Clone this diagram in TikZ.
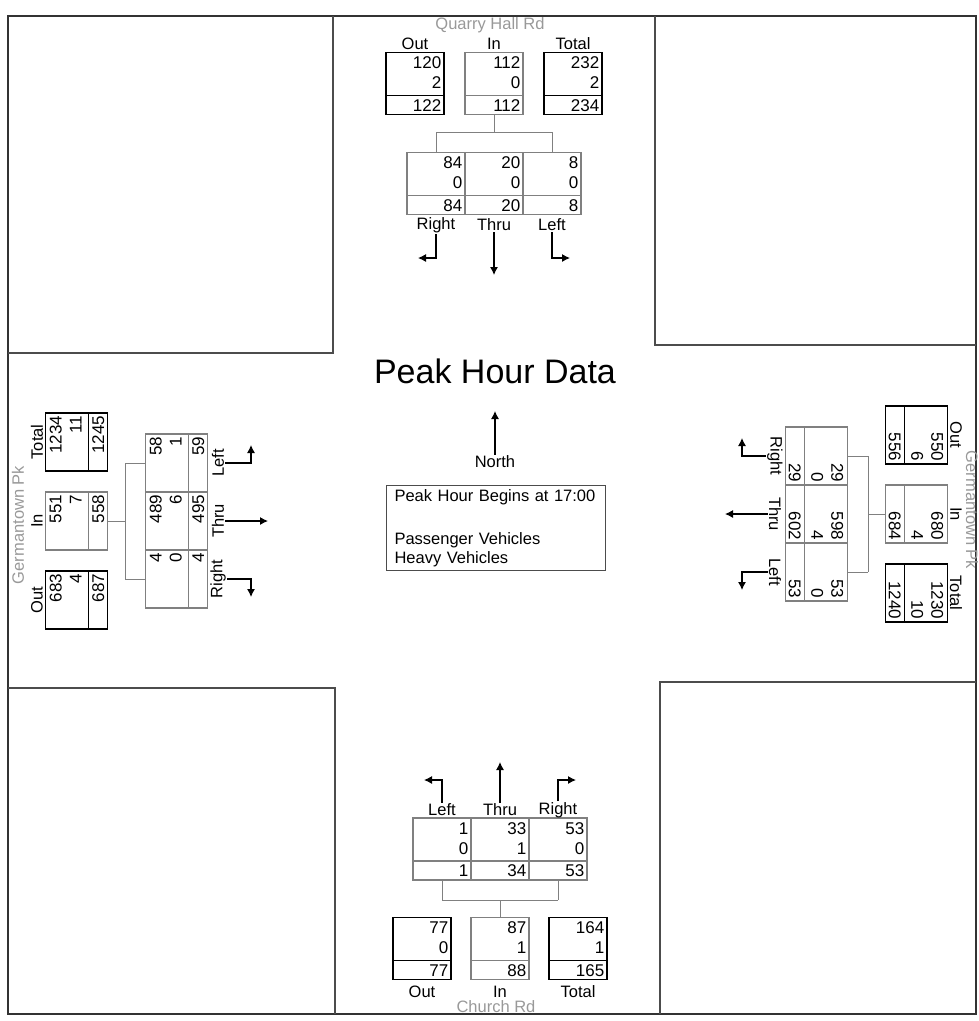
\documentclass[tikz,border=0pt]{standalone}
\usepackage{fontspec}
\setmainfont{Liberation Sans}
\usetikzlibrary{calc,positioning,arrows.meta}

\definecolor{boxgray}{gray}{0.5}
\definecolor{roadgray}{gray}{0.6}

\tikzset{
  vbox/.style={draw, line width=1.1pt, minimum width=58pt, minimum height=62pt, inner sep=0pt},
  num/.style={anchor=east, inner sep=3pt, font=\fontsize{17}{18}\selectfont},
  lbl/.style={inner sep=1pt, font=\fontsize{16.5}{18}\selectfont},
  road/.style={text=roadgray, inner sep=1pt, font=\fontsize{16.5}{18}\selectfont},
  turn/.style={->, line width=1.1pt},
  link/.style={draw=boxgray, line width=1pt},
  corner/.style={draw=black!70, line width=1.1pt},
}

% volume box: name, position, colour, three numbers
\newcommand{\volbox}[6]{%
  \node[vbox, draw=#3] (#1) at (#2) {};
  \draw[#3, line width=1.1pt] ($(#1.north west)!0.69!(#1.south west)$) -- ($(#1.north east)!0.69!(#1.south east)$);
  \node[num] at ($(#1.north east)!0.17!(#1.south east)$) {#4};
  \node[num] at ($(#1.north east)!0.49!(#1.south east)$) {#5};
  \node[num] at ($(#1.north east)!0.845!(#1.south east)$) {#6};
}

\begin{document}
\begin{tikzpicture}[x=1pt, y=-1pt, >={Latex[length=8pt,width=8pt]}]
    \useasboundingbox (0,0) rectangle (979,1021);

    % 1. Frame and the four corner blocks
    \draw[black!80, line width=1.6pt] (8,16) rectangle (976,1014);
    \draw[corner] (8,353) -- (333,353) -- (333,16);
    \draw[corner] (655,16) -- (655,345) -- (976,345);
    \draw[corner] (8,688) -- (335,688) -- (335,1014);
    \draw[corner] (660,1014) -- (660,682) -- (976,682);

    % 2. North leg: Quarry Hall Rd
    \begin{scope}[shift={(494,152)}]
        \node[road] (nRoad) at (-4,-127) {Quarry Hall Rd};
        \volbox{nOut}{-79,-68.5}{black}{120}{2}{122}
        \volbox{nIn}{0,-68.5}{boxgray}{112}{0}{112}
        \volbox{nTot}{79,-68.5}{black}{232}{2}{234}
        \node[lbl] (nOutL) at (-79,-108) {Out};
        \node[lbl] (nInL) at (0,-108) {In};
        \node[lbl] (nTotL) at (79,-108) {Total};
        \volbox{nR}{-58,31.5}{boxgray}{84}{0}{84}
        \volbox{nT}{0,31.5}{boxgray}{20}{0}{20}
        \volbox{nL}{58,31.5}{boxgray}{8}{0}{8}
        \coordinate (nJ) at (0,-20);
        \coordinate (nJl) at (-58,-20);
        \coordinate (nJr) at (58,-20);
        \draw[link] (nIn) -- (nJ) (nJl) -- (nJr) (nJl) -- (nR) (nJr) -- (nL);
        \node[lbl] (nRl) at (-58,73) {Right};
        \node[lbl] (nTl) at (0,73) {Thru};
        \node[lbl] (nLl) at (58,73) {Left};
        \draw[turn] (nRl) -- (-58,106) -- ++(-18,0);
        \draw[turn] (nTl) -- (0,123);
        \draw[turn] (nLl) -- (58,106) -- ++(18,0);
    \end{scope}

    % 3. West leg: Germantown Pk
    \begin{scope}[shift={(145,521)}, rotate=90, transform shape]
        \node[road] (wRoad) at (-4,-127) {Germantown Pk};
        \volbox{wOut}{-79,-68.5}{black}{683}{4}{687}
        \volbox{wIn}{0,-68.5}{boxgray}{551}{7}{558}
        \volbox{wTot}{79,-68.5}{black}{1234}{11}{1245}
        \node[lbl] (wOutL) at (-79,-108) {Out};
        \node[lbl] (wInL) at (0,-108) {In};
        \node[lbl] (wTotL) at (79,-108) {Total};
        \volbox{wR}{-58,31.5}{boxgray}{4}{0}{4}
        \volbox{wT}{0,31.5}{boxgray}{489}{6}{495}
        \volbox{wL}{58,31.5}{boxgray}{58}{1}{59}
        \coordinate (wJ) at (0,-20);
        \coordinate (wJl) at (-58,-20);
        \coordinate (wJr) at (58,-20);
        \draw[link] (wIn) -- (wJ) (wJl) -- (wJr) (wJl) -- (wR) (wJr) -- (wL);
        \node[lbl] (wRl) at (-58,73) {Right};
        \node[lbl] (wTl) at (0,73) {Thru};
        \node[lbl] (wLl) at (58,73) {Left};
        \draw[turn] (wRl) -- (-58,106) -- ++(-18,0);
        \draw[turn] (wTl) -- (0,123);
        \draw[turn] (wLl) -- (58,106) -- ++(18,0);
    \end{scope}

    % 4. East leg: Germantown Pk
    \begin{scope}[shift={(848,514)}, rotate=-90, transform shape]
        \node[road] (eRoad) at (-4,-124) {Germantown Pk};
        \volbox{eOut}{-79,-68.5}{black}{550}{6}{556}
        \volbox{eIn}{0,-68.5}{boxgray}{680}{4}{684}
        \volbox{eTot}{79,-68.5}{black}{1230}{10}{1240}
        \node[lbl] (eOutL) at (-79,-108) {Out};
        \node[lbl] (eInL) at (0,-108) {In};
        \node[lbl] (eTotL) at (79,-108) {Total};
        \volbox{eR}{-58,31.5}{boxgray}{29}{0}{29}
        \volbox{eT}{0,31.5}{boxgray}{598}{4}{602}
        \volbox{eL}{58,31.5}{boxgray}{53}{0}{53}
        \coordinate (eJ) at (0,-20);
        \coordinate (eJl) at (-58,-20);
        \coordinate (eJr) at (58,-20);
        \draw[link] (eIn) -- (eJ) (eJl) -- (eJr) (eJl) -- (eR) (eJr) -- (eL);
        \node[lbl] (eRl) at (-58,73) {Right};
        \node[lbl] (eTl) at (0,73) {Thru};
        \node[lbl] (eLl) at (58,73) {Left};
        \draw[turn] (eRl) -- (-58,106) -- ++(-18,0);
        \draw[turn] (eTl) -- (0,123);
        \draw[turn] (eLl) -- (58,106) -- ++(18,0);
    \end{scope}

    % 5. South leg: Church Rd (mirrored, text upright)
    \begin{scope}[shift={(500,880)}, yscale=-1]
        \node[road] (sRoad) at (-4,-127) {Church Rd};
        \volbox{sOut}{-78,-68.5}{black}{77}{0}{77}
        \volbox{sIn}{0,-68.5}{boxgray}{87}{1}{88}
        \volbox{sTot}{78,-68.5}{black}{164}{1}{165}
        \node[lbl] (sOutL) at (-78,-112) {Out};
        \node[lbl] (sInL) at (0,-112) {In};
        \node[lbl] (sTotL) at (78,-112) {Total};
        \volbox{sL}{-58,31}{boxgray}{1}{0}{1}
        \volbox{sT}{0,31}{boxgray}{33}{1}{34}
        \volbox{sR}{58,31}{boxgray}{53}{0}{53}
        \coordinate (sJ) at (0,-20);
        \coordinate (sJl) at (-58,-20);
        \coordinate (sJr) at (58,-20);
        \draw[link] (sIn) -- (sJ) (sJl) -- (sJr) (sJl) -- (sL) (sJr) -- (sR);
        \node[lbl] (sLl) at (-58,70) {Left};
        \node[lbl] (sTl) at (0,70) {Thru};
        \node[lbl] (sRl) at (58,70) {Right};
        \draw[turn] (sLl) -- (-58,100) -- ++(-18,0);
        \draw[turn] (sTl) -- (0,118);
        \draw[turn] (sRl) -- (58,100) -- ++(18,0);
    \end{scope}

    % 6. Title, north arrow and legend
    \node[font=\fontsize{34}{40}\selectfont] (title) at (495,371) {Peak Hour Data};
    \node[lbl] (north) at (495,462) {North};
    \draw[turn] (north) -- (495,411);
    \node[draw=black!70, line width=1pt, anchor=north west, align=left,
          text width=203pt, minimum height=83pt, inner xsep=8pt, inner ysep=4pt,
          font=\fontsize{16.5}{19}\selectfont] (legend) at (386,485)
        {Peak Hour Begins at 17:00\\[24pt]Passenger Vehicles\\Heavy Vehicles};
\end{tikzpicture}
\end{document}
